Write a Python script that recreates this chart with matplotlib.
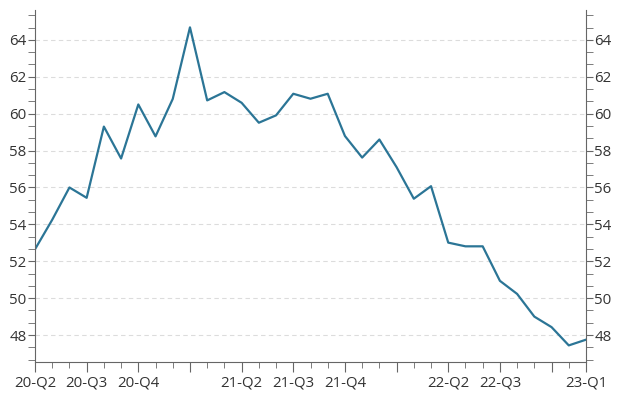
import matplotlib
matplotlib.use('Agg')
import matplotlib.pyplot as plt
from matplotlib.ticker import MultipleLocator, FixedLocator

# values per period (monthly points, labels only at some quarters)
values = [52.65, 54.25, 56.0, 55.44, 59.3, 57.57, 60.5, 58.77, 60.8, 64.68,
          60.72, 61.17, 60.59, 59.51, 59.91, 61.08, 60.81, 61.08, 58.79, 57.62,
          58.6, 57.1, 55.39, 56.07, 53.01, 52.81, 52.81, 50.94, 50.23, 49.0,
          48.43, 47.44, 47.75]
label_pos = [0, 3, 6, 12, 15, 18, 24, 27, 32]
label_txt = ["20-Q2", "20-Q3", "20-Q4", "21-Q2", "21-Q3", "21-Q4",
             "22-Q2", "22-Q3", "23-Q1"]

plt.rcParams['font.family'] = ['Open Sans', 'DejaVu Sans']

fig = plt.figure(figsize=(6.21, 3.98), dpi=100)
ax = fig.add_axes([35 / 621, 36 / 398, 551 / 621, 352 / 398])

x = list(range(len(values)))
ax.plot(x, values, color='#2b7596', linewidth=1.6)

ax.set_xlim(0, len(values) - 1)
ax.set_ylim(46.54, 65.62)

spine_col = '#666666'
for s in ['left', 'right', 'bottom']:
    ax.spines[s].set_color(spine_col)
ax.spines['top'].set_visible(False)

ax.yaxis.set_major_locator(MultipleLocator(2))
ax.yaxis.set_minor_locator(MultipleLocator(2 / 3))
ax.grid(axis='y', which='major', color='#dcdcdc', linestyle=(0, (4, 3)), linewidth=0.8)

ax.xaxis.set_major_locator(FixedLocator(list(range(0, 31, 3)) + [32]))
ax.xaxis.set_minor_locator(FixedLocator(x))
major_labels = []
for i in list(range(0, 31, 3)) + [32]:
    major_labels.append(label_txt[label_pos.index(i)] if i in label_pos else "")
ax.set_xticklabels(major_labels)

ax.tick_params(axis='y', which='both', left=True, right=True, labelleft=True,
               labelright=True, length=5, color=spine_col, labelsize=10.8,
               labelcolor='#333333', pad=1)
ax.tick_params(axis='x', which='major', length=7, color=spine_col, labelsize=10.8,
               labelcolor='#333333', pad=3)
ax.tick_params(axis='x', which='minor', length=4, color=spine_col)

fig.savefig('out.png', dpi=100)
